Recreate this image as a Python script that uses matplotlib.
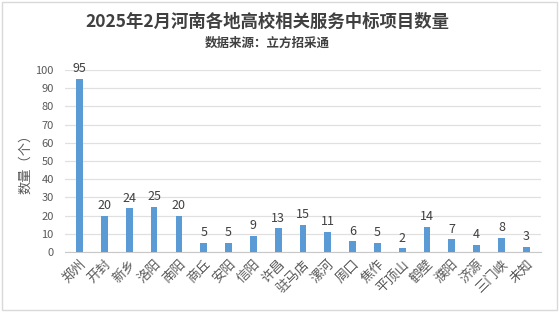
import matplotlib.pyplot as plt
from matplotlib.patches import Rectangle

plt.rcParams['font.family'] = ['Noto Sans CJK SC', 'DejaVu Sans']

# 数据
cities = ['郑州', '开封', '新乡', '洛阳', '南阳', '商丘', '安阳', '信阳', '许昌', '驻马店',
          '漯河', '周口', '焦作', '平顶山', '鹤壁', '濮阳', '济源', '三门峡', '未知']
counts = [95, 20, 24, 25, 20, 5, 5, 9, 13, 15, 11, 6, 5, 2, 14, 7, 4, 8, 3]

fig = plt.figure(figsize=(5.59, 3.12), dpi=100)
ax = fig.add_axes([0.116, 0.192, 0.852, 0.584])

x = list(range(len(cities)))
ax.bar(x, counts, width=0.27, color='#5B9BD5', zorder=3)
for xi, v in zip(x, counts):
    ax.text(xi, v + 2, str(v), ha='center', va='bottom', fontsize=9, color='#404040')

ax.set_ylim(0, 100)
ax.set_xlim(-0.6, len(cities) - 0.4)
ax.set_yticks(range(0, 101, 10))
ax.yaxis.grid(True, color='#E0E0E0', linewidth=0.9, zorder=0)
ax.tick_params(axis='y', length=0, labelsize=8, labelcolor='#595959', pad=8)
ax.tick_params(axis='x', length=0, labelsize=9.5, labelcolor='#595959', pad=4)
ax.set_xticks(x)
ax.set_xticklabels(cities, rotation=45, ha='right', rotation_mode='anchor')
for s in ['top', 'right', 'left']:
    ax.spines[s].set_visible(False)
ax.spines['bottom'].set_color('#C8C8C8')
ax.set_ylabel('数量（个）', fontsize=9.5, color='#595959', labelpad=2)

fig.text(0.478, 0.93, '2025年2月河南各地高校相关服务中标项目数量', ha='center', va='center',
         fontsize=12.5, color='#404040', fontweight='bold')
fig.text(0.478, 0.86, '数据来源：立方招采通', ha='center', va='center',
         fontsize=9, color='#404040', fontweight='bold')

fig.patches.append(Rectangle((0.004, 0.006), 0.992, 0.988, transform=fig.transFigure,
                             fill=False, edgecolor='#D9D9D9', linewidth=1))

fig.savefig('out.png', dpi=100, facecolor='white')
